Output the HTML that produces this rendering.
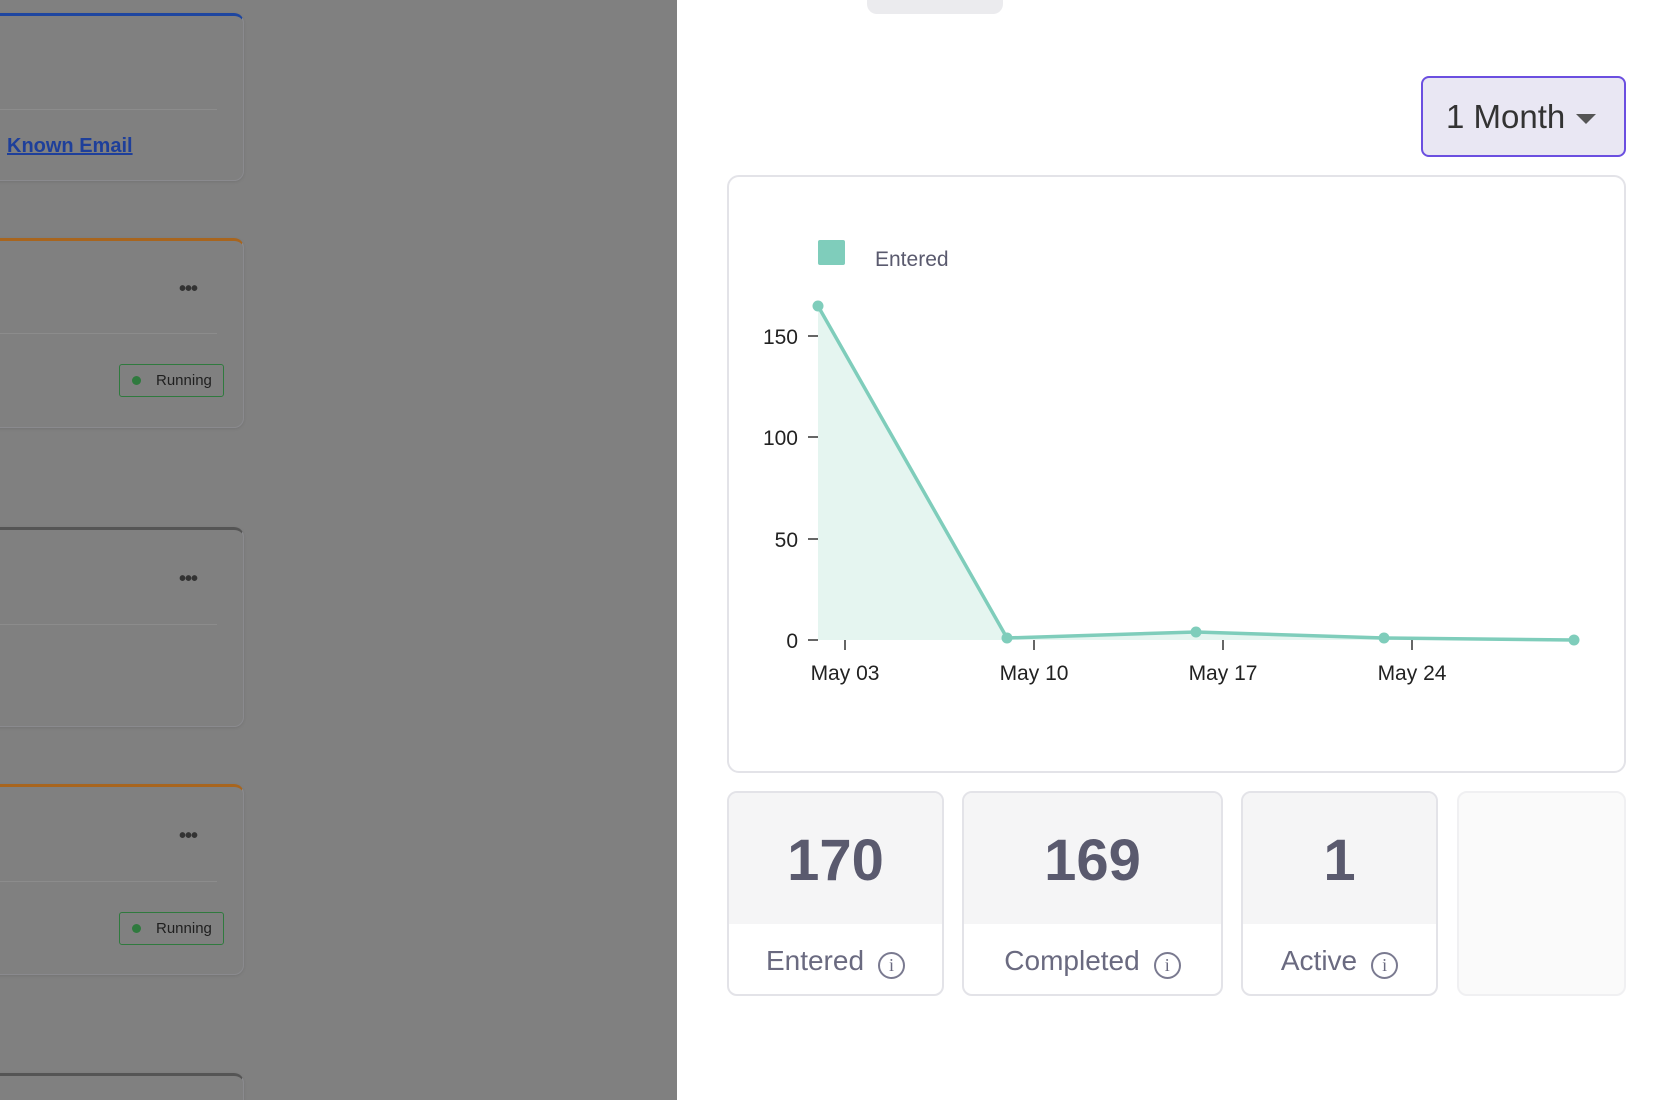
<!DOCTYPE html>
<html><head><style>
body{margin:0;width:1662px;height:1100px;position:relative;overflow:hidden;background:#fff;font-family:"Liberation Sans",sans-serif}
.ov{position:absolute;left:0;top:0;width:677px;height:1100px;background:#808080;overflow:hidden}
.card{position:absolute;left:-20px;width:262px;border:1px solid #8a8a8e;border-radius:10px;box-shadow:0 1px 3px rgba(0,0,0,.1)}
.dv{position:absolute;left:0;width:236px;height:1px;background:#8c8c8c}
.dots{position:absolute;left:198px;font-size:20px;color:#333;letter-spacing:-1px;font-weight:bold}
.run{position:absolute;left:138px;width:105px;height:33px;border:1px solid #2f7a3e;border-radius:3px;font-size:15px;color:#1f1f1f;box-sizing:border-box;line-height:31px;padding-left:36px}
.run:before{content:"";position:absolute;left:12px;top:11px;width:9px;height:9px;border-radius:50%;background:#2f7a3e}
.stat{position:absolute;top:791px;height:205px;border:2px solid #e3e3e8;border-radius:10px;box-sizing:border-box;overflow:hidden;background:#fff}
.stat .t{height:131px;background:#f5f5f6;text-align:center;font-size:58px;font-weight:bold;color:#5a5a6e;line-height:136px}
.stat .l{text-align:center;font-size:28px;color:#6a6a80;line-height:74px}
.i{display:inline-block;width:27px;height:27px;border:2px solid #7a7a90;border-radius:50%;font-size:18px;vertical-align:-1px;margin-left:14px;font-family:"Liberation Serif",serif;box-sizing:border-box;line-height:23px}
</style></head><body>
<div class="ov">
 <div class="card" style="top:13px;height:164px;border-top:3px solid #1e46a0"><div class="dv" style="top:93px"></div>
  <div style="position:absolute;left:26px;top:119px;font-size:20px;color:#1e3f9a;text-decoration:underline;font-weight:bold">Known Email</div></div>
 <div class="card" style="top:238px;height:186px;border-top:3px solid #a8651e"><div class="dots" style="top:37px">•••</div><div class="dv" style="top:92px"></div><div class="run" style="top:123px">Running</div></div>
 <div class="card" style="top:527px;height:196px;border-top:3px solid #555"><div class="dots" style="top:38px">•••</div><div class="dv" style="top:94px"></div></div>
 <div class="card" style="top:784px;height:187px;border-top:3px solid #a8651e"><div class="dots" style="top:38px">•••</div><div class="dv" style="top:94px"></div><div class="run" style="top:125px">Running</div></div>
 <div class="card" style="top:1073px;height:60px;border-top:3px solid #555"></div>
</div>
<div style="position:absolute;left:867px;top:-10px;width:136px;height:24px;background:#ebebee;border-radius:10px"></div>
<div style="position:absolute;left:1421px;top:76px;width:205px;height:81px;box-sizing:border-box;border:2px solid #6b4fe0;border-radius:8px;background:#e9e7f3;font-size:33px;color:#333;line-height:77px;padding-left:23px">1 Month<span style="position:absolute;right:28px;top:36px;border-left:10px solid transparent;border-right:10px solid transparent;border-top:10px solid #555"></span></div>
<div style="position:absolute;left:727px;top:175px;width:899px;height:598px;box-sizing:border-box;border:2px solid #e3e3e8;border-radius:12px"></div>
<svg style="position:absolute;left:0;top:0" width="1662" height="1100" font-family="Liberation Sans, sans-serif">
<rect x="818" y="240" width="27" height="25" rx="2" fill="#7fcdbb"/>
<text x="875" y="266" font-size="21" fill="#5a5a6e">Entered</text>
<g stroke="#333" stroke-width="1.5">
<line x1="808" y1="336" x2="818" y2="336"/><line x1="808" y1="437" x2="818" y2="437"/><line x1="808" y1="539" x2="818" y2="539"/><line x1="808" y1="640" x2="818" y2="640"/>
<line x1="845" y1="640" x2="845" y2="650"/><line x1="1034" y1="640" x2="1034" y2="650"/><line x1="1223" y1="640" x2="1223" y2="650"/><line x1="1412" y1="640" x2="1412" y2="650"/>
</g>
<g font-size="21" fill="#222" text-anchor="end">
<text x="798" y="344">150</text><text x="798" y="445">100</text><text x="798" y="547">50</text><text x="798" y="648">0</text></g>
<g font-size="21" fill="#222" text-anchor="middle">
<text x="845" y="680">May 03</text><text x="1034" y="680">May 10</text><text x="1223" y="680">May 17</text><text x="1412" y="680">May 24</text></g>
<polygon points="818,640 818,306 1007,638 1196,632 1384,638 1574,640" fill="#e5f5f0"/>
<polyline points="818,306 1007,638 1196,632 1384,638 1574,640" fill="none" stroke="#7fcdbb" stroke-width="3.5"/>
<g fill="#7fcdbb"><circle cx="818" cy="306" r="5.5"/><circle cx="1007" cy="638" r="5.5"/><circle cx="1196" cy="632" r="5.5"/><circle cx="1384" cy="638" r="5.5"/><circle cx="1574" cy="640" r="5.5"/></g>
</svg>
<div class="stat" style="left:727px;width:217px"><div class="t">170</div><div class="l">Entered<span class="i">i</span></div></div>
<div class="stat" style="left:962px;width:261px"><div class="t">169</div><div class="l">Completed<span class="i">i</span></div></div>
<div class="stat" style="left:1241px;width:197px"><div class="t">1</div><div class="l">Active<span class="i">i</span></div></div>
<div class="stat" style="left:1457px;width:169px;border-color:#f0f0f2;background:#fafafa"></div>
</body></html>
